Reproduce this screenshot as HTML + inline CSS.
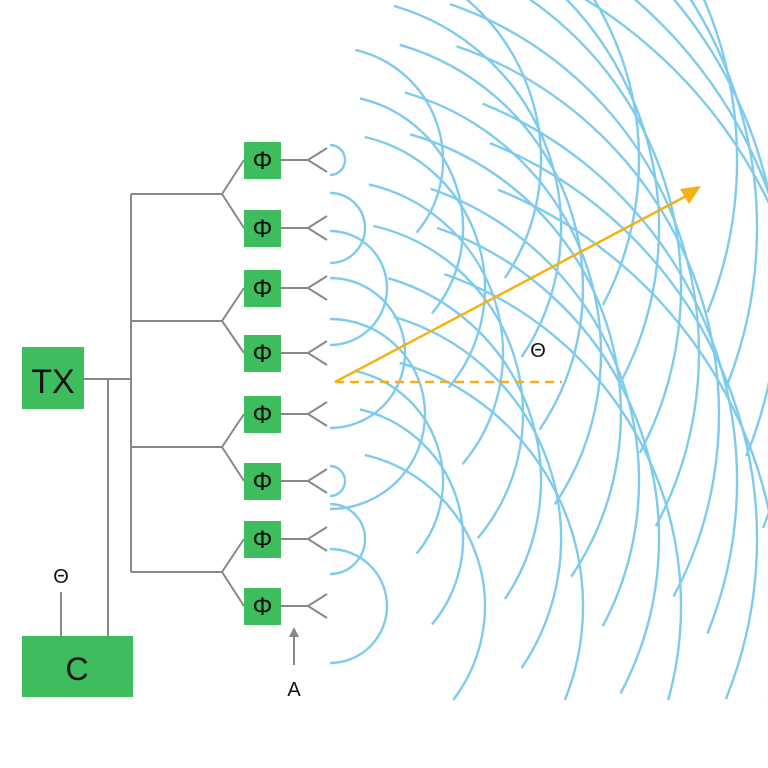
<!DOCTYPE html>
<html><head><meta charset="utf-8"><style>
html,body{margin:0;padding:0;background:#fff;overflow:hidden;width:768px;height:768px}
svg{display:block}
text{font-family:"Liberation Sans","DejaVu Sans",sans-serif}
</style></head><body>
<svg id="s" width="768" height="768" viewBox="0 0 768 768" xmlns="http://www.w3.org/2000/svg">
<g id="arcs" fill="none" stroke="#7ecbee" stroke-width="2.4"></g>
<g stroke="#888" stroke-width="2" fill="none">
<line x1="84" y1="379" x2="131" y2="379"/>
<line x1="108" y1="379" x2="108" y2="636"/>
<line x1="61" y1="592" x2="61" y2="636"/>
<line x1="131" y1="194" x2="131" y2="572"/>
<line x1="131" y1="194" x2="222" y2="194"/>
<line x1="131" y1="321" x2="222" y2="321"/>
<line x1="131" y1="447" x2="222" y2="447"/>
<line x1="131" y1="572" x2="222" y2="572"/>
<polyline points="244,160 222,194 244,228"/>
<polyline points="244,288 222,321 244,353"/>
<polyline points="244,414 222,447 244,481"/>
<polyline points="244,539 222,572 244,606"/>
<g id="ant"></g>
<line x1="294" y1="665" x2="294" y2="635"/>
</g>
<polygon points="289,637 299,637 294,627" fill="#888"/>
<g id="boxes"></g>
<rect x="22" y="347" width="62" height="62" fill="#3dbd5d"/>
<text x="53" y="393" font-size="34" text-anchor="middle" fill="#111">TX</text>
<rect x="22" y="636" width="111" height="61" fill="#3dbd5d"/>
<text x="77" y="680" font-size="32" text-anchor="middle" fill="#111">C</text>
<text x="61" y="583" font-size="20" text-anchor="middle" fill="#111">Θ</text>
<text x="294" y="696" font-size="20" text-anchor="middle" fill="#111">A</text>
<line x1="335" y1="382" x2="562" y2="382" stroke="#f5b014" stroke-width="2.5" stroke-dasharray="9,6"/>
<line x1="335" y1="382" x2="690" y2="194" stroke="#f5b014" stroke-width="2.5"/>
<polygon points="701,186 680,189 689,204" fill="#f5b014"/>
<text x="538" y="357" font-size="20" text-anchor="middle" fill="#111">Θ</text>
</svg>
<script>
var ys=[160,228,288,353,414,481,539,606];
var r0=[15,35,57,75,95,15,35,57];
var ns="http://www.w3.org/2000/svg";
var arcs=document.getElementById('arcs'),ant=document.getElementById('ant'),boxes=document.getElementById('boxes');
function P(cx,cy,r,a){a=a*Math.PI/180;return (cx+r*Math.cos(a)).toFixed(1)+","+(cy+r*Math.sin(a)).toFixed(1);}
ys.forEach(function(y,i){
  var cx=330;
  for(var k=0;k<5;k++){
    var r=r0[i]+k*98;
    var a1,a2;
    if(k==0){a1=-90;a2=90;}else{
      a1=-80+k*3;a2=46-k*6;
      var lim=Math.asin(Math.min(1,(700-y)/r))*180/Math.PI;
      if(a2>lim)a2=lim;
    }
    var p=document.createElementNS(ns,'path');
    p.setAttribute('d','M'+P(cx,y,r,a1)+' A'+r+','+r+' 0 0 1 '+P(cx,y,r,a2));
    arcs.appendChild(p);
  }
  var l=document.createElementNS(ns,'polyline');
  l.setAttribute('points','281,'+y+' 308,'+y);ant.appendChild(l);
  var v=document.createElementNS(ns,'polyline');
  v.setAttribute('points','327,'+(y-12)+' 308,'+y+' 327,'+(y+12));ant.appendChild(v);
  var b=document.createElementNS(ns,'rect');
  b.setAttribute('x',244);b.setAttribute('y',y-18);b.setAttribute('width',37);b.setAttribute('height',37);b.setAttribute('fill','#3dbd5d');boxes.appendChild(b);
  var t=document.createElementNS(ns,'text');
  t.setAttribute('x',262.5);t.setAttribute('y',y+9);t.setAttribute('font-size',25);t.setAttribute('text-anchor','middle');t.setAttribute('fill','#111');t.textContent='Φ';boxes.appendChild(t);
});
</script>
</body></html>
